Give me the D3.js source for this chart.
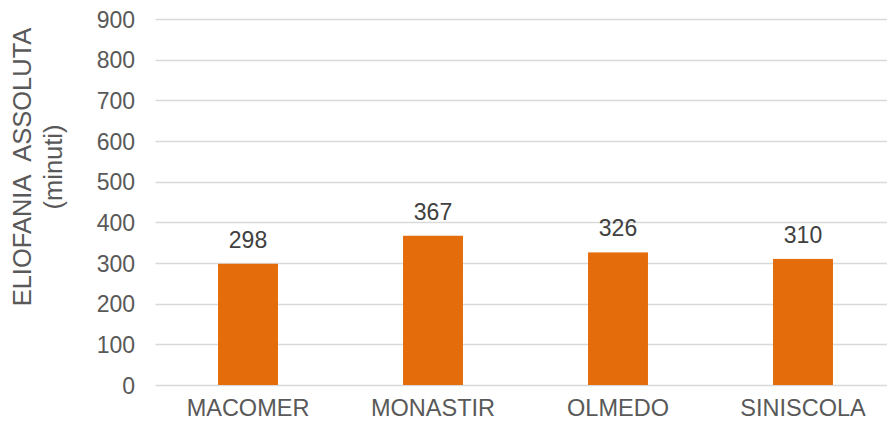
<!DOCTYPE html>
<html>
<head>
<meta charset="utf-8">
<script src="https://cdn.jsdelivr.net/npm/d3@7"></script>
<style>
  html, body { margin: 0; padding: 0; background: #fff; }
  svg { display: block; font-family: "Liberation Sans", Arial, sans-serif; }
</style>
</head>
<body>
<svg id="chart" width="887" height="422"></svg>
<script>
// Sunshine duration per station (minutes)
const stations = ["MACOMER", "MONASTIR", "OLMEDO", "SINISCOLA"];
const sunshine = [298, 367, 326, 310];
const yTicks = [0, 100, 200, 300, 400, 500, 600, 700, 800, 900];
const titleLines = ["ELIOFANIA\u00a0 ASSOLUTA", "(minuti)"];

const svg = d3.select("#chart");
const W = 887, H = 422;
const plot = { left: 155.5, right: 895.5, top: 19, bottom: 385 };

const x = d3.scaleBand()
  .domain(stations)
  .range([plot.left, plot.right])
  .paddingInner(0)
  .paddingOuter(0);

const y = d3.scaleLinear()
  .domain([0, 900])
  .range([plot.bottom, plot.top]);

const barW = x.bandwidth() * 0.324;
const textColor = "#595959";

// Horizontal gridlines
svg.append("g")
  .selectAll("line")
  .data(yTicks)
  .join("line")
  .attr("x1", plot.left)
  .attr("x2", W)
  .attr("y1", d => Math.round(y(d)) + 0.5)
  .attr("y2", d => Math.round(y(d)) + 0.5)
  .attr("stroke", "#d9d9d9")
  .attr("stroke-width", 1.3);

// Y axis labels
const yAxis = d3.axisLeft(y).tickValues(yTicks).tickSize(0).tickPadding(0);
const gy = svg.append("g")
  .attr("transform", `translate(135,0)`)
  .call(yAxis);
gy.select(".domain").remove();
gy.selectAll("text")
  .attr("fill", textColor)
  .attr("font-size", 23)
  .attr("font-family", "Liberation Sans, Arial, sans-serif")
  .attr("dy", "0.36em");

// Bars
svg.append("g")
  .selectAll("rect")
  .data(stations)
  .join("rect")
  .attr("x", d => x(d) + x.bandwidth() / 2 - barW / 2)
  .attr("width", barW)
  .attr("y", (d, i) => y(sunshine[i]))
  .attr("height", (d, i) => y(0) - y(sunshine[i]))
  .attr("fill", "#e46c0a");

// Value labels
svg.append("g")
  .selectAll("text")
  .data(stations)
  .join("text")
  .attr("x", d => x(d) + x.bandwidth() / 2)
  .attr("y", (d, i) => y(sunshine[i]) - 16)
  .attr("text-anchor", "middle")
  .attr("font-size", 23)
  .attr("fill", "#404040")
  .text((d, i) => sunshine[i]);

// Category axis
const xAxis = d3.axisBottom(x).tickSize(0).tickPadding(0);
const gx = svg.append("g")
  .attr("transform", `translate(0,${plot.bottom})`)
  .call(xAxis);
gx.select(".domain").remove();
gx.selectAll("text")
  .attr("fill", textColor)
  .attr("font-size", 23.5)
  .attr("font-family", "Liberation Sans, Arial, sans-serif")
  .attr("dy", null)
  .attr("y", 31);

// Axis title (two lines, rotated)
const title = svg.append("text")
  .attr("transform", "translate(0,167) rotate(-90)")
  .attr("text-anchor", "middle")
  .attr("fill", textColor)
  .attr("font-size", 25.5);
title.selectAll("tspan")
  .data(titleLines)
  .join("tspan")
  .attr("x", 0)
  .attr("y", (d, i) => 31 + i * 31)
  .text(d => d);
</script>
</body>
</html>
